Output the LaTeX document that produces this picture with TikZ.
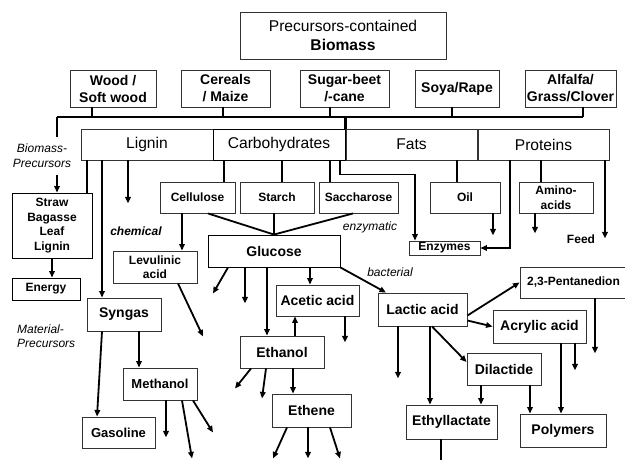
\documentclass[tikz,border=0pt]{standalone}
\usepackage{fontspec}
\setmainfont{Liberation Sans}
\usetikzlibrary{arrows.meta}
\newcommand\fsS{\fontsize{12}{14.5}\selectfont\bfseries}
\newcommand\fsM{\fontsize{14}{17}\selectfont\bfseries}
\newcommand\fsL{\fontsize{15.6}{19.5}\selectfont}
\newcommand\fsI{\fontsize{12}{14.5}\selectfont\itshape}
\begin{document}
\begin{tikzpicture}[x=1pt,y=-1pt,
  box/.style={draw=black!80, line width=0.9pt, fill=white, inner sep=0pt, align=center, font=\fsM},
  sbox/.style={box, font=\fsS},
  cbox/.style={box, font=\fsL},
  con/.style={line width=1.8pt, draw=black},
  arr/.style={con, -{Triangle[length=6.5pt,width=5.5pt]}},
  lbl/.style={font=\fsI, inner sep=0pt, align=center}
]
\useasboundingbox (0,0) rectangle (625,459);
\fill[white] (0,0) rectangle (625,459);

% top
\node[cbox, minimum width=206pt, minimum height=47pt] (top) at (343,35.5) {Precursors-contained\\\textbf{Biomass}};
% sources
\node[box, minimum width=86pt, minimum height=37pt] (wood) at (113,88.5) {Wood /\\Soft wood};
\node[box, minimum width=89pt, minimum height=37pt] (cereals) at (225.5,88.5) {Cereals\\/ Maize};
\node[box, minimum width=89pt, minimum height=37pt] (sugar) at (344.5,88.5) {Sugar-beet\\/-cane};
\node[box, minimum width=84pt, minimum height=37pt] (soya) at (457,88.5) {Soya/Rape};
\node[box, minimum width=91pt, minimum height=37pt] (alfalfa) at (570.5,88.5) {Alfalfa/\\Grass/Clover};
% categories
\node[cbox, minimum width=132pt, minimum height=31pt] (lignin) at (147,144.5) {Lignin};
\node[cbox, minimum width=131pt, minimum height=31pt] (fats) at (411.5,144.5) {Fats};
\node[cbox, minimum width=131pt, minimum height=31pt] (proteins) at (543.5,144.5) {Proteins};
\node[cbox, draw=black, minimum width=132pt, minimum height=31pt] (carbo) at (279,144.5) {Carbohydrates};

% bus
\coordinate (busL) at (57,117);
\coordinate (bpTop) at (57,137);
\coordinate (bpBot) at (57,175);
\draw[con] ([xshift=-21pt]wood.south) -- ([xshift=-21pt]wood.south |- busL);
\draw[con] ([xshift=-2.5pt]cereals.south) -- ([xshift=-2.5pt]cereals.south |- busL);
\draw[con] ([xshift=-14.5pt]sugar.south) -- ([xshift=-14.5pt]sugar.south |- busL);
\draw[con] ([xshift=-5pt]soya.south) -- ([xshift=-5pt]soya.south |- busL);
\draw[con] ([xshift=12.5pt]alfalfa.south) -- ([xshift=12.5pt]alfalfa.south |- busL) coordinate (busR);
\draw[con] (busL) -- (busR);
\draw[con, line width=2.4pt] (carbo.north east) -- (carbo.north east |- busL);
\draw[con] (busL) -- (bpTop);
\node[lbl] (bplabel) at (42,155.5) {Biomass-\\Precursors};

% lignin branch
\node[sbox, draw=black, minimum width=80pt, minimum height=65pt] (straw) at (52,225.5) {Straw\\Bagasse\\Leaf\\Lignin};
\node[sbox, draw=black, minimum width=68pt, minimum height=22pt] (energy) at (46,289) {Energy};
\draw[arr] (bpBot) -- (bpBot |- straw.north);
\draw[con] ([xshift=-60pt]lignin.south) -- ([xshift=-60pt]lignin.south |- straw.north);
\draw[arr] (straw.south) -- (straw.south |- energy.north);
\node[box, minimum width=74pt, minimum height=33pt] (syngas) at (124,314.5) {Syngas};
\draw[arr] ([xshift=-45pt]lignin.south) -- ([xshift=-45pt]lignin.south |- syngas.north);
\draw[arr] ([xshift=-19pt]lignin.south) -- ++(0,43);
\node[lbl, font=\fsI\bfseries] (chem) at (136,231) {chemical};

% carbohydrates branch
\node[sbox, minimum width=75pt, minimum height=31pt] (cellulose) at (197.5,197.5) {Cellulose};
\node[sbox, minimum width=74pt, minimum height=31pt] (starch) at (277,197.5) {Starch};
\node[sbox, minimum width=79pt, minimum height=31pt] (sacch) at (358.5,197.5) {Saccharose};
\draw[con] ([xshift=-55pt]carbo.south) -- ([xshift=-55pt]carbo.south |- cellulose.north);
\draw[con] ([xshift=3pt]carbo.south) -- ([xshift=3pt]carbo.south |- starch.north);
\draw[con] ([xshift=51pt]carbo.south) -- ([xshift=51pt]carbo.south |- sacch.north);
\node[sbox, minimum width=71pt, minimum height=14pt] (enzymes) at (444.5,248) {Enzymes};
\draw[arr] ([xshift=61pt]carbo.south) -- ++(0,14) -| ([xshift=-29.5pt]enzymes.north);

\node[box, draw=black, minimum width=132pt, minimum height=32pt] (glucose) at (274,251) {Glucose};
\draw[con] ([xshift=10.5pt]cellulose.south) -- (glucose.north);
\draw[con] (starch.south -| glucose.north) -- (glucose.north);
\draw[con] ([xshift=-5.5pt]sacch.south) -- (glucose.north);
\node[lbl] (enzy) at (370,227) {enzymatic};

\node[sbox, minimum width=84pt, minimum height=32pt] (levulinic) at (155,267) {Levulinic\\acid};
\draw[arr] ([xshift=-15.5pt]cellulose.south) -- ([xshift=-15.5pt]cellulose.south |- levulinic.north);
\draw[arr] ([xshift=23pt]levulinic.south) -- ++(25,53);

% glucose products
\node[box, minimum width=83pt, minimum height=31pt] (acetic) at (317.5,300.5) {Acetic acid};
\node[box, minimum width=84pt, minimum height=32pt] (ethanol) at (282,352) {Ethanol};
\node[box, minimum width=79pt, minimum height=33pt] (ethene) at (311.5,410.5) {Ethene};
\node[box, minimum width=89pt, minimum height=33pt] (lactic) at (422.5,309.5) {Lactic acid};
\draw[arr] ([xshift=-46pt]glucose.south) -- ++(-15,26);
\draw[arr] ([xshift=-29pt]glucose.south) -- ++(0,36);
\draw[arr] ([xshift=-7pt]glucose.south) -- ([xshift=-7pt]glucose.south |- ethanol.north);
\draw[arr] ([xshift=36pt]glucose.south) -- ([xshift=36pt]glucose.south |- acetic.north);
\draw[arr] (glucose.south east) -- ([xshift=-36.5pt]lactic.north);
\node[lbl] (bact) at (390,272) {bacterial};
\draw[arr] ([xshift=27.5pt]acetic.south) -- ++(0,26);
\draw[arr] ([xshift=13pt]ethanol.north) -- ([xshift=13pt]ethanol.north |- acetic.south);
\draw[arr] ([xshift=-31pt]ethanol.south) -- ++(-16,20);
\draw[arr] ([xshift=-16pt]ethanol.south) -- ++(-4,30);
\draw[arr] ([xshift=11pt]ethanol.south) -- ([xshift=11pt]ethanol.south |- ethene.north);
\draw[arr] ([xshift=-24.5pt]ethene.south) -- ++(-14,31);
\draw[arr] ([xshift=-3.5pt]ethene.south) -- ++(0,31);
\draw[arr] ([xshift=18.5pt]ethene.south) -- ++(10,31);

% syngas products
\node[sbox, font=\fontsize{13}{15}\selectfont\bfseries, minimum width=74pt, minimum height=32pt] (methanol) at (160,384) {Methanol};
\node[sbox, font=\fontsize{13}{15}\selectfont\bfseries, minimum width=73pt, minimum height=31pt] (gasoline) at (118.5,432.5) {Gasoline};
\draw[arr] ([xshift=-22pt]syngas.south) -- ([xshift=-21.5pt]gasoline.north);
\draw[arr] ([xshift=15pt]syngas.south) -- ([xshift=15pt]syngas.south |- methanol.north);
\draw[arr] ([xshift=6pt]methanol.south) -- ++(0,37);
\draw[arr] ([xshift=22pt]methanol.south) -- ++(10,58);
\draw[arr] ([xshift=33pt]methanol.south) -- ++(20,32);
\node[lbl, anchor=west, align=left] (matlabel) at (17,336) {Material-\\Precursors};

% fats & proteins
\node[sbox, minimum width=70pt, minimum height=31pt] (oil) at (465,197.5) {Oil};
\node[sbox, minimum width=74pt, minimum height=31pt] (amino) at (556,197.5) {Amino-\\acids};
\draw[con] ([xshift=45.5pt]fats.south) -- ([xshift=45.5pt]fats.south |- oil.north);
\draw[arr] ([xshift=28pt]oil.south) -- ++(0,22);
\draw[arr] ([xshift=-33.5pt]proteins.south) |- (enzymes.east);
\draw[con] ([xshift=-2.5pt]proteins.south) -- ([xshift=-2.5pt]proteins.south |- amino.north);
\draw[arr] ([xshift=-21pt]amino.south) -- ++(0,20);
\draw[arr] ([xshift=61.5pt]proteins.south) -- ++(0,78);
\node[font=\fsS, inner sep=0pt] (feed) at (581,239) {Feed};

% lactic products
\node[sbox, minimum width=107pt, minimum height=31pt] (pentan) at (573.5,282.5) {2,3-Pentanedion};
\node[box, minimum width=93pt, minimum height=33pt] (acrylic) at (539.5,326.5) {Acrylic acid};
\node[box, minimum width=74pt, minimum height=32pt] (dilactide) at (504,369) {Dilactide};
\node[box, minimum width=91pt, minimum height=34pt] (ethyl) at (451.5,422) {Ethyllactate};
\node[box, minimum width=86pt, minimum height=33pt] (polymers) at (563,430.5) {Polymers};
\draw[arr] ([yshift=-6pt]lactic.east) -- (pentan.west);
\draw[arr] ([yshift=-11pt]lactic.east) -- (acrylic.west);
\draw[arr] ([xshift=-24.5pt]lactic.south) -- ++(0,52);
\draw[arr] ([xshift=7.5pt]lactic.south) -- ([xshift=7.5pt]lactic.south |- ethyl.north);
\draw[arr] ([xshift=9.5pt]lactic.south) -- ([yshift=7pt]dilactide.west);
\draw[arr] ([xshift=-23pt]dilactide.south) -- ([xshift=-23pt]dilactide.south |- ethyl.north);
\draw[arr] ([xshift=26pt]dilactide.south) -- ([xshift=26pt]dilactide.south |- polymers.north);
\draw[arr] ([xshift=21.5pt]acrylic.south) -- ([xshift=21.5pt]acrylic.south |- polymers.north);
\draw[arr] ([xshift=35.5pt]acrylic.south) -- ++(0,27);
\draw[arr] ([xshift=21.5pt]pentan.south) -- ++(0,55);
\draw[con] ([xshift=-10.5pt]ethyl.south) -- ++(0,22);
\end{tikzpicture}
\end{document}
